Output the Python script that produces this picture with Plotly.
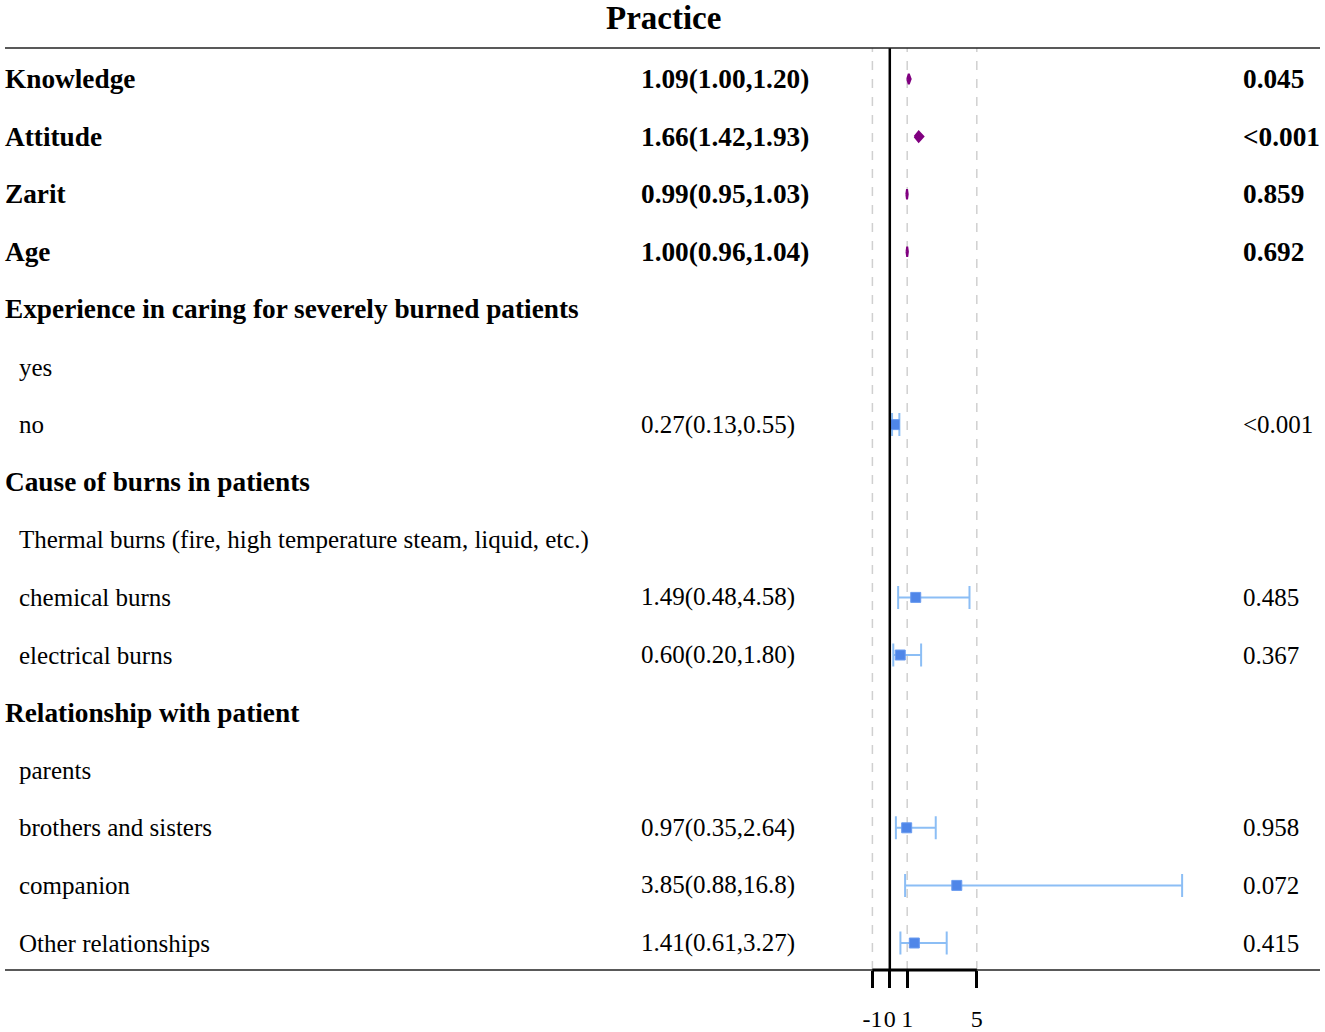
import plotly.graph_objects as go

# righe della tabella (dall'alto in basso)
labels = [
    "Knowledge", "Attitude", "Zarit", "Age",
    "Experience in caring for severely burned patients", "yes", "no",
    "Cause of burns in patients",
    "Thermal burns (fire, high temperature steam, liquid, etc.)",
    "chemical burns", "electrical burns",
    "Relationship with patient", "parents", "brothers and sisters",
    "companion", "Other relationships",
]
kind = ["cont", "cont", "cont", "cont",
        "head", "sub", "sub",
        "head", "sub", "sub", "sub",
        "head", "sub", "sub", "sub", "sub"]
or_text = ["1.09(1.00,1.20)", "1.66(1.42,1.93)", "0.99(0.95,1.03)", "1.00(0.96,1.04)",
           "", "", "0.27(0.13,0.55)",
           "", "", "1.49(0.48,4.58)", "0.60(0.20,1.80)",
           "", "", "0.97(0.35,2.64)", "3.85(0.88,16.8)", "1.41(0.61,3.27)"]
p_text = ["0.045", "<0.001", "0.859", "0.692",
          "", "", "<0.001",
          "", "", "0.485", "0.367",
          "", "", "0.958", "0.072", "0.415"]
est = [1.09, 1.66, 0.99, 1.00, None, None, 0.27, None, None, 1.49, 0.60, None, None, 0.97, 3.85, 1.41]
low = [1.00, 1.42, 0.95, 0.96, None, None, 0.13, None, None, 0.48, 0.20, None, None, 0.35, 0.88, 0.61]
upp = [1.20, 1.93, 1.03, 1.04, None, None, 0.55, None, None, 4.58, 1.80, None, None, 2.64, 16.8, 3.27]

x_ticks = [-1, 0, 1, 5]
ref_lines = [-1, 1, 5]

W, H = 1325, 1032
FONT = "Liberation Serif"
PURPLE = "#800080"
BOX = "#4f86e8"
CI_COL = "#8cbef5"

# geometria (pixel)
top_px, bot_px = 48, 970
row0_px, step_px = 79, 57.6
y_lo = (bot_px - row0_px) / step_px
y_hi = (top_px - row0_px) / step_px
x_left_px, x_right_px = 858, 1230
zero_px, unit_px = 889.8, 17.4

fig = go.Figure()

# rombi per le variabili continue
dx, dy = [], []
h = 0.09
for i, k in enumerate(kind):
    if k == "cont":
        dx += [low[i], est[i], upp[i], est[i], low[i], None]
        dy += [i, i - h, i, i + h, i, None]
fig.add_trace(go.Scatter(x=dx, y=dy, mode="lines", fill="toself",
                         fillcolor=PURPLE, line=dict(color=PURPLE, width=2),
                         hoverinfo="skip", showlegend=False))

# quadrati con IC per le categorie
bi = [i for i, k in enumerate(kind) if k == "sub" and est[i] is not None]
fig.add_trace(go.Scatter(
    x=[est[i] for i in bi], y=bi, mode="markers",
    marker=dict(symbol="square", size=10, color=BOX, line=dict(color="#6a9cf0", width=1)),
    error_x=dict(type="data", symmetric=False,
                 array=[upp[i] - est[i] for i in bi],
                 arrayminus=[est[i] - low[i] for i in bi],
                 color=CI_COL, thickness=2, width=11.5),
    hoverinfo="skip", showlegend=False))


def put(xp, row, txt, bold):
    size = 27.3 if bold else 25
    t = f"<b>{txt}</b>" if bold else txt
    fig.add_annotation(x=xp / W, xref="paper", y=row, yref="y", text=t,
                       xanchor="left", yanchor="middle", showarrow=False,
                       borderpad=0, borderwidth=0,
                       font=dict(family=FONT, size=size, color="black"))


# testi
for i, lab in enumerate(labels):
    bold = kind[i] in ("cont", "head")
    put(5 if bold else 19, i, lab, bold)
    if or_text[i]:
        put(641, i, or_text[i], bold)
    if p_text[i]:
        put(1243, i, p_text[i], bold)

fig.add_annotation(x=663 / W, xref="paper", y=1 - 18 / H, yref="paper",
                   text="<b>Practice</b>", xanchor="center", yanchor="middle",
                   showarrow=False, borderpad=0,
                   font=dict(family=FONT, size=33, color="black"))

y_top = 1 - top_px / H
y_bot = 1 - bot_px / H

# linee di riferimento
for v in ref_lines:
    fig.add_shape(type="line", x0=v, x1=v, xref="x", y0=y_bot, y1=y_top, yref="paper",
                  line=dict(color="#d0d0d0", width=1.5, dash="dash"), layer="below")
fig.add_shape(type="line", x0=0, x1=0, xref="x", y0=y_bot, y1=y_top, yref="paper",
              line=dict(color="black", width=2.5))
# righe orizzontali
for yy in (y_top, y_bot):
    fig.add_shape(type="line", x0=5 / W, x1=1320 / W, xref="paper", y0=yy, y1=yy,
                  yref="paper", line=dict(color="#222222", width=1.5))
fig.add_shape(type="line", x0=min(x_ticks), x1=max(x_ticks), xref="x", y0=y_bot, y1=y_bot,
              yref="paper", line=dict(color="black", width=3))

fig.update_layout(
    width=W, height=H,
    margin=dict(l=0, r=0, t=0, b=0, autoexpand=False),
    plot_bgcolor="white", paper_bgcolor="white",
    xaxis=dict(domain=[x_left_px / W, x_right_px / W],
               range=[(x_left_px - zero_px) / unit_px, (x_right_px - zero_px) / unit_px],
               showgrid=False, zeroline=False, showline=False, automargin=False,
               tickmode="array", tickvals=x_ticks, ticktext=[str(t) for t in x_ticks],
               tickangle=0,
               ticks="outside", ticklen=17, tickwidth=2.5, tickcolor="black",
               ticklabelstandoff=10,
               tickfont=dict(family=FONT, size=24, color="black")),
    yaxis=dict(domain=[y_bot, y_top], range=[y_lo, y_hi], automargin=False,
               showgrid=False, zeroline=False, showline=False,
               showticklabels=False, ticks=""),
)

fig.write_html("out.html", config={"displayModeBar": False},
               post_script="document.body.style.margin='0';")
